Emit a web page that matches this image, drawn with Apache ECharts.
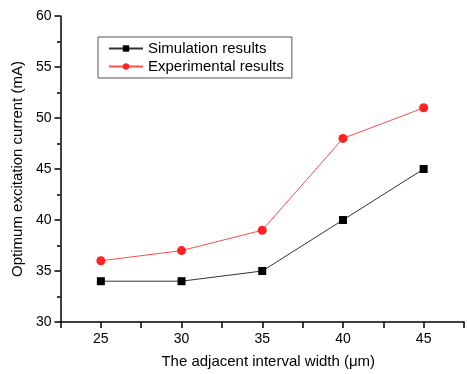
<!DOCTYPE html>
<html><head><meta charset="utf-8">
<script src="https://cdn.jsdelivr.net/npm/echarts@6/dist/echarts.min.js"></script>
<style>html,body{margin:0;padding:0;background:#fff}#c{width:467px;height:374px}</style>
</head><body><div id="c"></div>
<script>
var widths = [25, 30, 35, 40, 45];
var simulation = [34, 34, 35, 40, 45];
var experimental = [36, 37, 39, 48, 51];
var seriesNames = ['Simulation results', 'Experimental results'];
var xTitle = 'The adjacent interval width (\u03bcm)';
var yTitle = 'Optimum excitation current (mA)';

function pairs(xs, ys){ return xs.map(function(x,i){ return [x, ys[i]]; }); }
function isMajor(v){ return Math.abs(v % 5) < 1e-6; }

var chart = echarts.init(document.getElementById('c'));
var font = 'Liberation Sans, Arial, sans-serif';
chart.setOption({
  animation: false,
  backgroundColor: '#fff',
  grid: { left: 60.5, top: 16, width: 414, bottom: 51.5, containLabel: false },
  legend: {
    orient: 'vertical', left: 98, top: 37,
    data: seriesNames,
    itemWidth: 34, itemHeight: 8, itemGap: 3,
    borderColor: '#555', borderWidth: 1, padding: [4, 8, 4, 10],
    textStyle: { fontFamily: font, fontSize: 15, color: '#000' }
  },
  xAxis: [{
    type: 'value', min: 22.5, max: 47.5, interval: 2.5,
    name: xTitle, nameLocation: 'middle', nameGap: 32,
    nameTextStyle: { fontFamily: font, fontSize: 15, color: '#000', padding: [0, 0, 0, 12] },
    axisLine: { lineStyle: { color: '#000', width: 1.5 } },
    axisTick: { show: true, length: 6, lineStyle: { color: '#000', width: 1.5 },
      interval: function(i, v){ return isMajor(v); } },
    axisLabel: { fontFamily: font, fontSize: 14, color: '#000', margin: 10,
      formatter: function(v){ return isMajor(v) ? String(v) : ''; } },
    splitLine: { show: false }
  }, {
    type: 'value', min: 22.5, max: 47.5, interval: 2.5, position: 'bottom',
    axisLine: { show: false },
    axisTick: { show: true, length: 3.5, lineStyle: { color: '#000', width: 1.5 } },
    axisLabel: { show: false },
    splitLine: { show: false }
  }],
  yAxis: {
    type: 'value', min: 30, max: 60, interval: 5,
    name: yTitle, nameLocation: 'middle', nameGap: 34,
    nameTextStyle: { fontFamily: font, fontSize: 15, color: '#000' },
    axisLine: { show: true, lineStyle: { color: '#000', width: 1.5 } },
    axisTick: { show: true, length: 6, lineStyle: { color: '#000', width: 1.5 } },
    minorTick: { show: true, splitNumber: 2, length: 3.5, lineStyle: { color: '#000', width: 1.5 } },
    axisLabel: { fontFamily: font, fontSize: 14, color: '#000', margin: 9 },
    splitLine: { show: false }
  },
  series: [
    { name: seriesNames[0], type: 'line', data: pairs(widths, simulation),
      symbol: 'rect', symbolSize: 8,
      itemStyle: { color: '#000' }, lineStyle: { color: '#333', width: 1 } },
    { name: seriesNames[1], type: 'line', data: pairs(widths, experimental),
      symbol: 'circle', symbolSize: 9,
      itemStyle: { color: '#f22' }, lineStyle: { color: '#ff4d4d', width: 1 } }
  ]
});
</script></body></html>
